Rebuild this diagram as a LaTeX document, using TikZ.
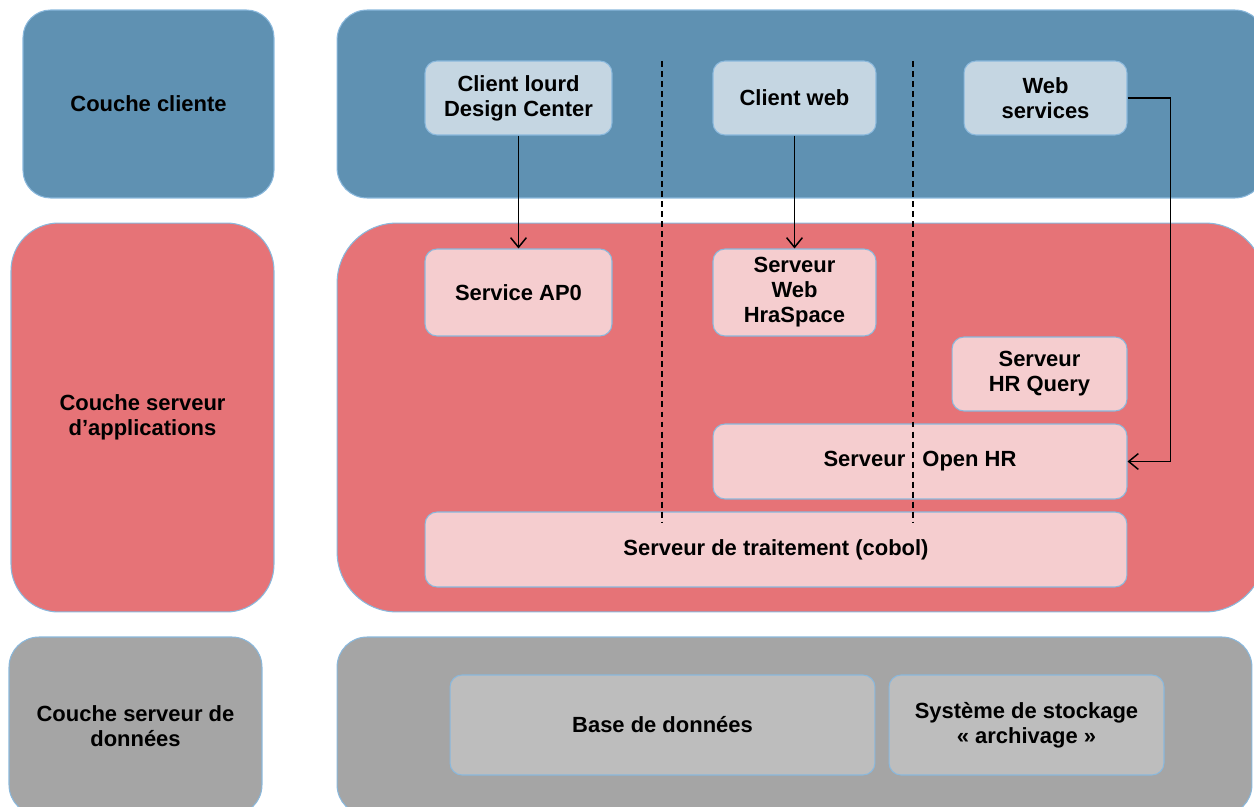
\documentclass[tikz,border=0pt]{standalone}
\usepackage{fontspec}
\setmainfont{Liberation Sans}
\usetikzlibrary{arrows.meta}

\definecolor{bleu}{HTML}{5F91B2}
\definecolor{bleuclair}{HTML}{C5D6E2}
\definecolor{rouge}{HTML}{E67377}
\definecolor{rose}{HTML}{F5CDCF}
\definecolor{gris}{HTML}{A5A5A5}
\definecolor{grisclair}{HTML}{BDBDBD}
\definecolor{bord}{HTML}{8AB8DC}

\begin{document}
\begin{tikzpicture}[x=0.02cm, y=-0.02cm,
  every node/.style={font=\fontsize{12.5}{14.2}\selectfont\bfseries, align=center},
  layer/.style={draw=bord, line width=0.6pt, rectangle},
  item/.style={draw=bord, line width=0.6pt, rectangle, rounded corners=0.24cm},
  sep/.style={dash pattern=on 3.4pt off 2.3pt, line width=0.8pt},
  flow/.style={-{Straight Barb[length=5.5pt, width=9pt]}, line width=0.85pt}]
  \useasboundingbox (0,0) rectangle (1254,807);
  \clip (0,0) rectangle (1254,807);

  % Couches
  \node [layer, fill=bleu, rounded corners=0.55cm, minimum width=5.02cm, minimum height=3.76cm] (cc) at (148.5,104) {Couche cliente};
  \node [layer, fill=bleu, rounded corners=0.6cm, minimum width=18.56cm, minimum height=3.76cm] (zc) at (801,104) {};

  \node [layer, fill=rouge, rounded corners=0.95cm, minimum width=5.26cm, minimum height=7.78cm] (csa) at (142.5,417.5) {Couche serveur\\d'applications};
  \node [layer, fill=rouge, rounded corners=1.2cm, minimum width=18.56cm, minimum height=7.78cm] (zsa) at (801,417.5) {};

  \node [layer, fill=gris, rounded corners=0.6cm, minimum width=5.06cm, minimum height=3.56cm] (csd) at (135.5,726) {Couche serveur de\\donn\'ees};
  \node [layer, fill=gris, rounded corners=0.6cm, minimum width=18.3cm, minimum height=3.56cm] (zsd) at (794.5,726) {};

  % Clients
  \node [item, fill=bleuclair, minimum width=3.74cm, minimum height=1.48cm] (lourd) at (518.5,98) {Client lourd\\Design Center};
  \node [item, fill=bleuclair, minimum width=3.26cm, minimum height=1.48cm] (web) at (794.5,98) {Client web};
  \node [item, fill=bleuclair, minimum width=3.26cm, minimum height=1.48cm] (ws) at (1045.5,98) {Web\\services};

  % Serveurs d'applications
  \node [item, fill=rose, minimum width=3.74cm, minimum height=1.74cm] (ap0) at (518.5,292.5) {Service AP0};
  \node [item, fill=rose, minimum width=3.26cm, minimum height=1.74cm] (hra) at (794.5,292.5) {Serveur\\Web\\HraSpace};
  \node [item, fill=rose, minimum width=3.5cm, minimum height=1.48cm] (hrq) at (1039.5,374) {Serveur\\HR Query};
  \node [item, fill=rose, minimum width=8.28cm, minimum height=1.5cm] (ohr) at (920,461.5) {Serveur\hspace{0.5em} Open HR};
  \node [item, fill=rose, minimum width=14.04cm, minimum height=1.5cm] (cob) at (776,549.5) {Serveur de traitement (cobol)};

  % Donnees
  \node [item, fill=grisclair, minimum width=8.5cm, minimum height=2cm] (bdd) at (662.5,725) {Base de donn\'ees};
  \node [item, fill=grisclair, minimum width=5.5cm, minimum height=2cm] (arch) at (1026.5,725) {Syst\`eme de stockage\\\guillemotleft\ archivage \guillemotright};

  % Separateurs
  \coordinate (s1h) at (662,61);
  \coordinate (s1b) at (662,523);
  \coordinate (s2h) at (913,61);
  \coordinate (s2b) at (913,523);
  \draw [sep] (s1h) -- (s1b);
  \draw [sep] (s2h) -- (s2b);

  % Liens
  \draw [flow] (lourd) -- (ap0);
  \draw [flow] (web) -- (hra);
  \draw [flow] (ws.east) -- ++(43,0) |- (ohr.east);

\end{tikzpicture}
\end{document}
